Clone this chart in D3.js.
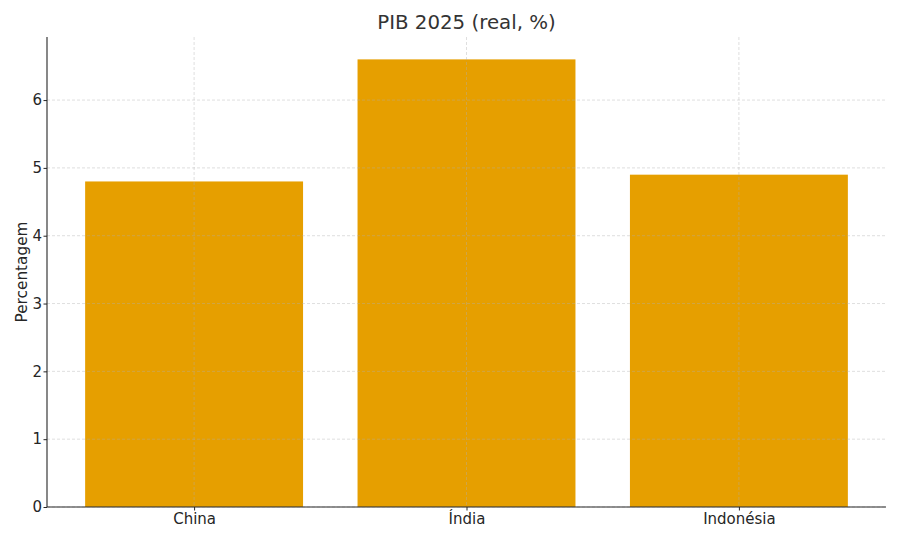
<!DOCTYPE html>
<html><head><meta charset="utf-8">
<script src="https://cdn.jsdelivr.net/npm/d3@7"></script>
<style>body{margin:0;background:#fff}svg{font-family:"DejaVu Sans",sans-serif}</style>
</head><body>
<svg id="c" width="900" height="540"></svg>
<script>
const categories = ["China", "Índia", "Indonésia"];
const values = [4.8, 6.6, 4.9];
const yTicks = [0, 1, 2, 3, 4, 5, 6];
const title = "PIB 2025 (real, %)";
const yLabel = "Percentagem";

const svg = d3.select("#c");
const L = 47, R = 886, T = 37, B = 507;
const x = d3.scaleLinear().domain([-0.54, 2.54]).range([L, R]);
const y = d3.scaleLinear().domain([0, 6.93]).range([B, T]);
const bw = 0.8;

// bars
svg.selectAll("rect.bar").data(values).join("rect")
  .attr("x", (d, i) => x(i - bw / 2)).attr("width", (d, i) => x(i + bw / 2) - x(i - bw / 2))
  .attr("y", d => y(d)).attr("height", d => y(0) - y(d))
  .attr("fill", "#E69F00");

// grid
const g = svg.append("g");
g.selectAll("line.gy").data(yTicks).join("line")
  .attr("x1", L).attr("x2", R).attr("y1", d => y(d)).attr("y2", d => y(d))
  .attr("stroke", "#b0b0b0").attr("stroke-opacity", 0.5).attr("stroke-dasharray", "3,2").attr("stroke-width", 0.8);
g.selectAll("line.gx").data(categories).join("line")
  .attr("x1", (d, i) => x(i)).attr("x2", (d, i) => x(i)).attr("y1", T).attr("y2", B)
  .attr("stroke", "#b0b0b0").attr("stroke-opacity", 0.5).attr("stroke-dasharray", "3,2").attr("stroke-width", 0.8);

// axes
const yAxis = d3.axisLeft(y).tickValues(yTicks).tickSize(3.5).tickPadding(1.5).tickFormat(d3.format("d"));
const ya = svg.append("g").attr("transform", `translate(${L},0)`).call(yAxis);
ya.select(".domain").attr("d", `M0,${T}V${B}`);
const xAxis = d3.axisBottom(x).tickValues(categories.map((d, i) => i)).tickSize(3.5).tickPadding(2.5).tickFormat(i => categories[i]);
const xa = svg.append("g").attr("transform", `translate(0,${B})`).call(xAxis);
xa.select(".domain").attr("d", `M${L},0H${R}`);
[ya, xa].forEach(a => {
  a.attr("font-size", 15).attr("font-family", "DejaVu Sans");
  a.selectAll("text").attr("font-size", 15).attr("fill", "#262626");
  a.select(".domain").attr("stroke", "#262626").attr("stroke-width", 1.1);
  a.selectAll(".tick line").attr("stroke", "#262626");
});

svg.append("text").attr("x", (L + R) / 2).attr("y", 29).attr("text-anchor", "middle")
  .attr("font-size", 19.8).attr("fill", "#333").text(title);
svg.append("text").attr("transform", `translate(27,${(T + B) / 2}) rotate(-90)`).attr("text-anchor", "middle")
  .attr("font-size", 15.3).attr("fill", "#262626").text(yLabel);
</script>
</body></html>
